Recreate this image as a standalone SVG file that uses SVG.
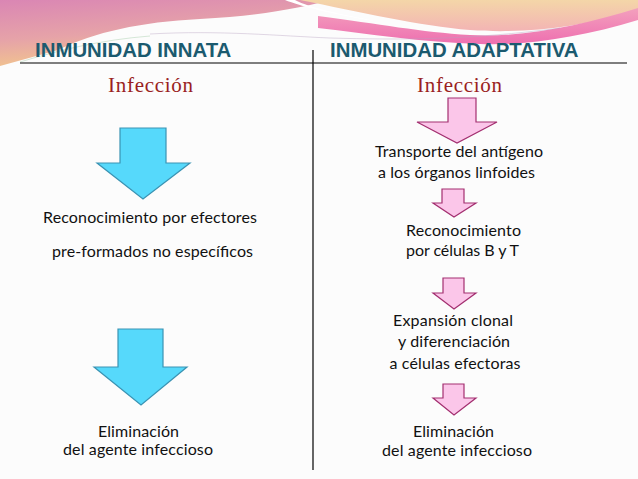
<svg xmlns="http://www.w3.org/2000/svg" width="638" height="479" viewBox="0 0 638 479">
<defs>
<linearGradient id="gL" x1="0" y1="0" x2="0.35" y2="1">
<stop offset="0" stop-color="#da86b4"/>
<stop offset="0.55" stop-color="#e6a3a8"/>
<stop offset="1" stop-color="#f3c98a"/>
</linearGradient>
<linearGradient id="gR" x1="0" y1="0" x2="0" y2="1">
<stop offset="0" stop-color="#f4d6a8"/>
<stop offset="1" stop-color="#f3b4b4"/>
</linearGradient>
<linearGradient id="gP" x1="0" y1="0" x2="0" y2="1">
<stop offset="0" stop-color="#f3a0bd"/>
<stop offset="1" stop-color="#ee6fb0"/>
</linearGradient>
<style>
.title{font-family:"Liberation Sans",Arial,sans-serif;font-weight:bold;font-size:20.4px;fill:#1b5a6f}
.inf{font-family:"Liberation Serif","Times New Roman",serif;font-size:21px;fill:#9a1f22;text-anchor:middle}
.t{font-family:Lato,"Open Sans",sans-serif;font-size:16px;fill:#111;text-anchor:middle}
.cy{fill:#56d9fb;stroke:#3a93b3;stroke-width:1.2}
.pk{fill:#fbc6e9;stroke:#a32f70;stroke-width:1.2}
.rule{stroke:#000;stroke-width:1.2;fill:none}
</style>
</defs>
<rect width="638" height="479" fill="#fcfcfc"/>
<g id="decoration">
<path d="M0,0 H330 C300,8 260,16 200,19 C140,22 95,32 58,50 L0,66 Z" fill="url(#gL)"/>
<path d="M300,0 H638 V10 C580,28 520,34 470,30 C420,26 360,12 300,0 Z" fill="url(#gR)"/>
<path d="M318,16 C380,24 420,32 470,35 C520,38 580,26 638,8 V20 C580,38 520,46 480,44 C420,42 370,34 318,28 Z" fill="url(#gP)"/>
<path d="M285,0 C300,6 330,14 380,22 C340,14 310,8 295,0 Z" fill="#ffffff"/>
<path d="M150,34 C220,30 280,36 330,38 C400,40 470,40 560,28" fill="none" stroke="#b8a0c0" stroke-width="0.7" opacity="0.6"/>
<path d="M20,62 C60,50 100,40 150,36" fill="none" stroke="#9cc8a0" stroke-width="0.7" opacity="0.6"/>
</g>
<g id="frame">
<line class="rule" x1="20" y1="63" x2="627" y2="63"/>
<line class="rule" x1="313" y1="50" x2="313" y2="470"/>
</g>
<g id="title-innata"><text class="title" x="35" y="57">INMUNIDAD  INNATA</text></g>
<g id="title-adaptativa"><text class="title" x="330" y="57">INMUNIDAD ADAPTATIVA</text></g>
<g id="connectors">
<polygon class="cy" points="120,128 166,128 166,163 190,163 143,199 97,163 120,163"/>
<polygon class="cy" points="118,329 163,329 163,367 187,367 141,405 94,367 118,367"/>
<polygon class="pk" points="448,98 476,98 476,122 497,122 457,143 417,122 448,122"/>
<polygon class="pk" points="442,189 464,189 464,203 476,203 454,217 433,203 442,203"/>
<polygon class="pk" points="443,278 464,278 464,293 476,293 454,309 433,293 443,293"/>
<polygon class="pk" points="443,384 464,384 464,398 476,398 454,415 433,398 443,398"/>
</g>
<g id="innata-infeccion"><text class="inf" x="150.5" y="92" textLength="85">Infección</text></g>
<g id="innata-reconocimiento">
<text class="t" x="150" y="223" textLength="214">Reconocimiento por efectores</text>
<text class="t" x="152.5" y="257" textLength="201">pre-formados no específicos</text>
</g>
<g id="innata-eliminacion">
<text class="t" x="138.5" y="437" textLength="81">Eliminación</text>
<text class="t" x="138" y="455" textLength="150">del agente infeccioso</text>
</g>
<g id="adapt-infeccion"><text class="inf" x="459.5" y="92" textLength="85">Infección</text></g>
<g id="adapt-transporte">
<text class="t" x="459" y="157" textLength="168">Transporte del antígeno</text>
<text class="t" x="456.5" y="178" textLength="157">a los órganos linfoides</text>
</g>
<g id="adapt-reconocimiento">
<text class="t" x="463.5" y="236" textLength="115">Reconocimiento</text>
<text class="t" x="462.5" y="256" textLength="113">por células B y T</text>
</g>
<g id="adapt-expansion">
<text class="t" x="453" y="326" textLength="120">Expansión clonal</text>
<text class="t" x="454" y="347" textLength="112">y diferenciación</text>
<text class="t" x="455" y="369" textLength="131">a células efectoras</text>
</g>
<g id="adapt-eliminacion">
<text class="t" x="453.5" y="437" textLength="81">Eliminación</text>
<text class="t" x="457" y="456" textLength="150">del agente infeccioso</text>
</g>
</svg>
